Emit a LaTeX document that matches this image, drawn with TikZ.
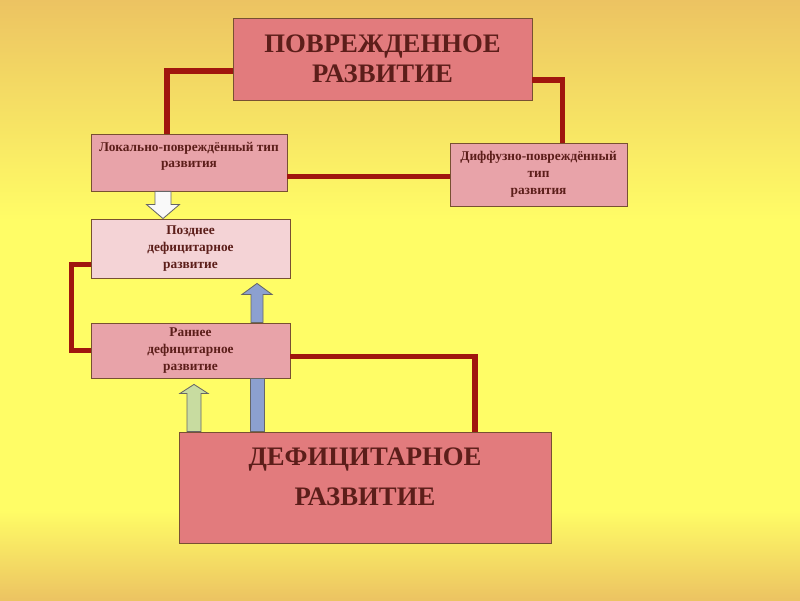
\documentclass[tikz,border=0pt]{standalone}
\usepackage{fontspec}
\setmainfont{Liberation Serif}

\definecolor{bgorange}{RGB}{236,195,98}
\definecolor{bgyellow}{RGB}{255,253,102}
\definecolor{boxred}{RGB}{226,123,125}
\definecolor{boxpink}{RGB}{232,163,169}
\definecolor{boxlight}{RGB}{244,211,214}
\definecolor{boxedge}{RGB}{120,80,50}
\definecolor{linkred}{RGB}{160,22,14}
\definecolor{txtbrown}{RGB}{92,30,26}
\definecolor{arrgreen}{RGB}{200,220,160}
\definecolor{arrblue}{RGB}{140,160,208}

\tikzset{
  box/.style={draw=boxedge, line width=0.6pt, text=txtbrown, align=center, inner sep=0pt},
  bigbox/.style={box, fill=boxred, font=\fontsize{19}{21.5}\selectfont\bfseries},
  smallbox/.style={box, fill=boxpink, font=\fontsize{9.5}{12}\selectfont\bfseries},
  boxtext/.style={text=txtbrown, align=center, inner sep=0pt, anchor=north},
  link/.style={linkred, line width=3.6pt},
  blockarr/.style={draw=black!60, line width=0.6pt},
}

\begin{document}
\begin{tikzpicture}
    % background
    \shade[top color=bgorange, bottom color=bgyellow] (0,15) rectangle (20,9.5);
    \fill[bgyellow] (0,9.5) rectangle (20,2.25);
    \shade[top color=bgyellow, bottom color=bgorange] (0,2.25) rectangle (20,0);
    \useasboundingbox (0,0) rectangle (20,15);

    % boxes
    \node[bigbox, minimum width=7.475cm, minimum height=2.05cm] (damaged) at (9.5625,13.525) {ПОВРЕЖДЕННОЕ\\РАЗВИТИЕ};
    \node[smallbox, minimum width=4.9cm, minimum height=1.425cm,
          label={[boxtext, yshift=-2mm, font=\fontsize{9.5}{12}\selectfont\bfseries]north:{Локально-повреждённый тип\\развития}}] (local) at (4.725,10.9375) {};
    \node[smallbox, minimum width=4.425cm, minimum height=1.575cm] (diffuse) at (13.4625,10.6375) {Диффузно-повреждённый\\тип\\развития};
    \node[smallbox, fill=boxlight, minimum width=4.975cm, minimum height=1.475cm] (late) at (4.7625,8.7875) {Позднее\\дефицитарное\\развитие};
    \node[smallbox, minimum width=4.975cm, minimum height=1.375cm] (early) at (4.7625,6.2375) {Раннее\\дефицитарное\\развитие};
    \node[box, fill=boxred, minimum width=9.3cm, minimum height=2.775cm,
          label={[boxtext, yshift=-4mm, font=\fontsize{19}{28.5}\selectfont\bfseries]north:{ДЕФИЦИТАРНОЕ\\РАЗВИТИЕ}}] (deficit) at (9.125,2.8125) {};

    % links
    \draw[link] ([yshift=-3mm]damaged.west) -| ([xshift=-5.5mm]local.north);
    \draw[link] ([yshift=-5.25mm]damaged.east) -| ([xshift=6mm]diffuse.north);
    \coordinate (locout) at ([yshift=-3.4mm]local.east);
    \draw[link] (locout) -- (locout -| diffuse.west);
    \draw[link] ([yshift=-4.1mm]late.west) -- ++(-0.475,0) |- (early.west);
    \draw[link] ([yshift=-1.6mm]early.east) -| ([xshift=27.5mm]deficit.north);

    % block arrows
    \coordinate (wtop) at ([xshift=-6.5mm]local.south);
    \coordinate (wtip) at (wtop |- late.north);
    \filldraw[blockarr, fill=white!95!gray] ([xshift=-2mm]wtop) -- ([xshift=-2mm,yshift=3.5mm]wtip) -- ([xshift=-4.1mm,yshift=3.5mm]wtip)
        -- (wtip) -- ([xshift=4.1mm,yshift=3.5mm]wtip) -- ([xshift=2mm,yshift=3.5mm]wtip) -- ([xshift=2mm]wtop) -- cycle;

    \coordinate (gfoot) at ([xshift=-42.75mm]deficit.north);
    \coordinate (gtip) at (gfoot |- early.south);
    \filldraw[blockarr, fill=arrgreen] ([xshift=-1.75mm]gfoot) -- ([xshift=-1.75mm,yshift=-3.75mm]gtip) -- ([xshift=-3.5mm,yshift=-3.75mm]gtip)
        -- ([yshift=-1.5mm]gtip) -- ([xshift=3.5mm,yshift=-3.75mm]gtip) -- ([xshift=1.75mm,yshift=-3.75mm]gtip) -- ([xshift=1.75mm]gfoot) -- cycle;

    \coordinate (bfoot) at ([xshift=-27mm]deficit.north);
    \coordinate (bmid) at (bfoot |- early.south);
    \filldraw[blockarr, fill=arrblue] ([xshift=-1.75mm]bfoot) rectangle ([xshift=1.75mm]bmid);
    \coordinate (bbase) at (bfoot |- early.north);
    \coordinate (btip) at (bfoot |- late.south);
    \filldraw[blockarr, fill=arrblue] ([xshift=-1.5mm]bbase) -- ([xshift=-1.5mm,yshift=-4mm]btip) -- ([xshift=-3.75mm,yshift=-4mm]btip)
        -- ([yshift=-1.25mm]btip) -- ([xshift=3.75mm,yshift=-4mm]btip) -- ([xshift=1.5mm,yshift=-4mm]btip) -- ([xshift=1.5mm]bbase) -- cycle;
\end{tikzpicture}
\end{document}
